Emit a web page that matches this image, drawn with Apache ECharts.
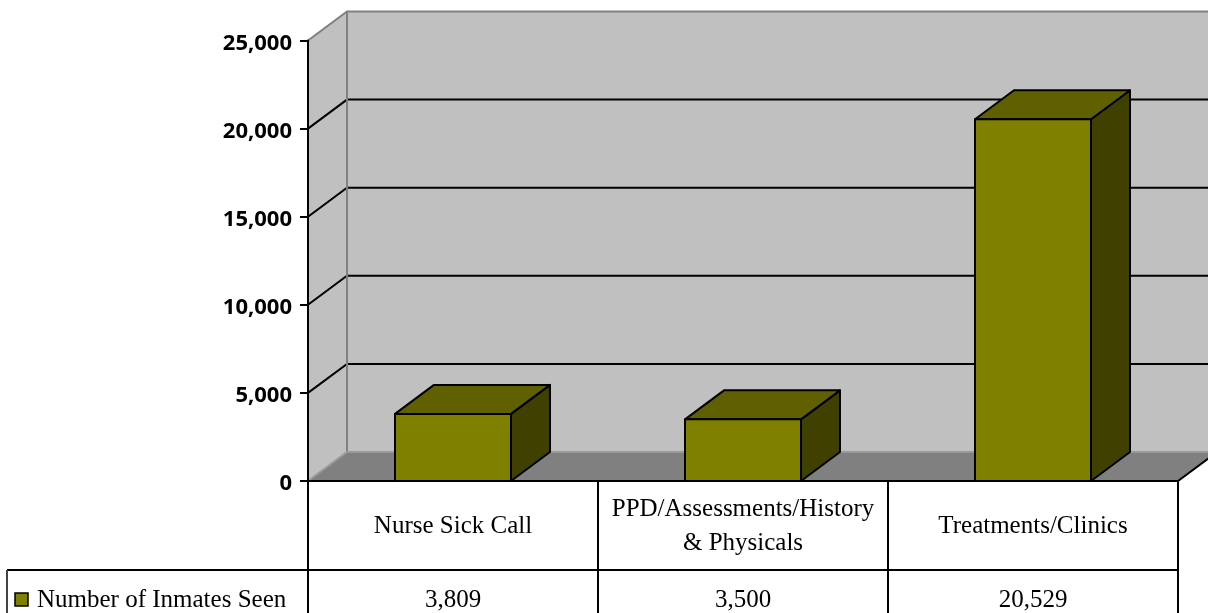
<!DOCTYPE html>
<html><head><meta charset="utf-8">
<script src="https://cdn.jsdelivr.net/npm/echarts@6/dist/echarts.min.js"></script>
<style>html,body{margin:0;padding:0;background:#fff}#c{width:1208px;height:613px}</style>
</head><body><div id="c"></div>
<script>
const categories = ['Nurse Sick Call', 'PPD/Assessments/History\n& Physicals', 'Treatments/Clinics'];
const seriesName = 'Number of Inmates Seen';
const values = [3809, 3500, 20529];
const yTicks = [0, 5000, 10000, 15000, 20000, 25000];

const DX = 39, DY = -29;
const FRONT = '#808000', TOP = '#606000', SIDE = '#404000';
const SERIF = '"Liberation Serif", "DejaVu Serif", serif';

function frame(api) {
  const bw = api.size([1, 0])[0];
  const p0 = api.coord([0, 0]);
  const pm = api.coord([0, yTicks[yTicks.length - 1]]);
  const x0 = p0[0] - bw / 2;
  const x1 = api.coord([categories.length - 1, 0])[0] + bw / 2;
  return { bw, x0, x1, yb: p0[1], yt: pm[1] };
}

function wallRender(params, api) {
  const f = frame(api);
  const { x0, x1, yb, yt } = f;
  const ch = [];
  ch.push({ type: 'polygon', shape: { points: [[x0 + DX, yt + DY], [x1 + DX + 60, yt + DY], [x1 + DX + 60, yb + DY], [x0 + DX, yb + DY]] }, style: { fill: '#c0c0c0' } });
  ch.push({ type: 'polygon', shape: { points: [[x0, yt], [x0 + DX, yt + DY], [x0 + DX, yb + DY], [x0, yb]] }, style: { fill: '#c0c0c0' } });
  ch.push({ type: 'polygon', shape: { points: [[x0, yb], [x0 + DX, yb + DY], [x1 + DX, yb + DY], [x1, yb]] }, style: { fill: '#808080' } });
  yTicks.slice(1, -1).forEach(t => {
    const y = api.coord([0, t])[1];
    ch.push({ type: 'polyline', shape: { points: [[x0, y], [x0 + DX, y + DY], [x1 + DX + 60, y + DY]] }, style: { stroke: '#000', lineWidth: 2, fill: null } });
  });
  const g = { stroke: '#808080', lineWidth: 2, fill: null };
  ch.push({ type: 'polyline', shape: { points: [[x0, yt], [x0 + DX, yt + DY], [x1 + DX + 60, yt + DY]] }, style: g });
  ch.push({ type: 'line', shape: { x1: x0 + DX, y1: yt + DY, x2: x0 + DX, y2: yb + DY }, style: g });
  ch.push({ type: 'polyline', shape: { points: [[x0, yb], [x0 + DX, yb + DY], [x1 + DX + 60, yb + DY]] }, style: { stroke: '#9a9a9a', lineWidth: 2, fill: null } });
  ch.push({ type: 'polyline', shape: { points: [[x0 - 1, yb], [x1, yb], [x1 + DX, yb + DY]] }, style: { stroke: '#000', lineWidth: 2, fill: null } });
  return { type: 'group', children: ch };
}

function barRender(params, api) {
  const i = api.value(0), v = api.value(1);
  const base = api.coord([i, 0]);
  const top = api.coord([i, v]);
  const w = api.size([1, 0])[0] * 0.4;
  const xl = base[0] - w / 2, xr = base[0] + w / 2, yb = base[1], yt = top[1];
  const st = { stroke: '#000', lineWidth: 2, lineJoin: 'round' };
  return {
    type: 'group', children: [
      { type: 'polygon', shape: { points: [[xr, yt], [xr + DX, yt + DY], [xr + DX, yb + DY], [xr, yb]] }, style: Object.assign({ fill: SIDE }, st) },
      { type: 'polygon', shape: { points: [[xl, yt], [xl + DX, yt + DY], [xr + DX, yt + DY], [xr, yt]] }, style: Object.assign({ fill: TOP }, st) },
      { type: 'rect', shape: { x: xl, y: yt, width: w, height: yb - yt }, style: Object.assign({ fill: FRONT }, st) }
    ]
  };
}

const ROW1 = 89, ROW2 = 150;
function tableRender(params, api) {
  const i = api.value(0), v = api.value(1);
  const f = frame(api);
  const cx = api.coord([i, 0])[0];
  const xr = cx + f.bw / 2, xl = cx - f.bw / 2;
  const yb = f.yb, yr = yb + ROW1;
  const ln = { stroke: '#000', lineWidth: 2 };
  const ch = [
    { type: 'line', shape: { x1: xr, y1: yb, x2: xr, y2: yb + ROW2 }, style: ln },
    { type: 'text', style: { x: cx, y: (yb + yr) / 2 + 1, text: categories[i], align: 'center', verticalAlign: 'middle', font: '25px ' + SERIF, fill: '#000', lineHeight: 34 } },
    { type: 'text', style: { x: cx, y: yr + 30, text: v.toLocaleString('en-US'), align: 'center', verticalAlign: 'middle', font: '25px ' + SERIF, fill: '#000' } }
  ];
  if (i === 0) {
    ch.push({ type: 'line', shape: { x1: xl, y1: yb, x2: xl, y2: yb + ROW2 }, style: ln });
    ch.push({ type: 'line', shape: { x1: 7, y1: yr, x2: f.x1, y2: yr }, style: ln });
    ch.push({ type: 'line', shape: { x1: 7, y1: yr, x2: 7, y2: yb + ROW2 }, style: { stroke: '#444', lineWidth: 2 } });
    ch.push({ type: 'rect', shape: { x: 15, y: yr + 23, width: 13, height: 13 }, style: { fill: FRONT, stroke: '#000', lineWidth: 1.5 } });
    ch.push({ type: 'text', style: { x: 37, y: yr + 30, text: seriesName, align: 'left', verticalAlign: 'middle', font: '25px ' + SERIF, fill: '#000' } });
  }
  return { type: 'group', children: ch };
}

const chart = echarts.init(document.getElementById('c'), null, { renderer: 'canvas' });
chart.setOption({
  animation: false,
  grid: { left: 308, right: 30, top: 40.5, bottom: 132, containLabel: false },
  xAxis: { type: 'category', data: categories, axisLabel: { show: false }, axisTick: { show: false }, axisLine: { show: false }, splitLine: { show: false } },
  yAxis: {
    type: 'value', min: 0, max: 25000, interval: 5000, z: 10,
    axisLine: { show: true, lineStyle: { color: '#000', width: 2 } },
    axisTick: { show: true, length: 8, lineStyle: { color: '#000', width: 2 } },
    splitLine: { show: false },
    axisLabel: {
      margin: 16, color: '#000',
      formatter: v => '{a|' + v.toLocaleString('en-US') + '}',
      rich: { a: { fontFamily: '"Open Sans", sans-serif', fontWeight: 'bold', fontSize: 22, color: '#000', padding: [6, 0, 0, 0] } }
    }
  },
  series: [
    { type: 'custom', name: 'walls', z: 1, silent: true, renderItem: wallRender, data: [[0, 0]], encode: { x: 0, y: 1 } },
    { type: 'custom', name: seriesName, z: 3, renderItem: barRender, data: values.map((v, i) => [i, v]), encode: { x: 0, y: 1 } },
    { type: 'custom', name: 'table', z: 2, silent: true, clip: false, renderItem: tableRender, data: values.map((v, i) => [i, v]), encode: { x: 0, y: 1 } }
  ]
});
</script></body></html>
